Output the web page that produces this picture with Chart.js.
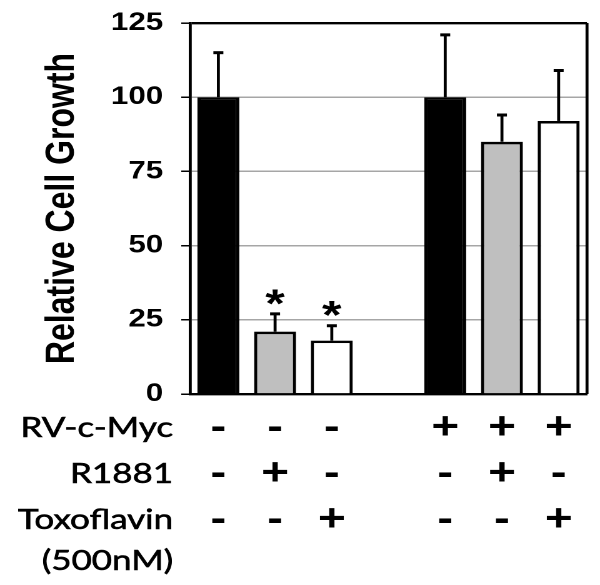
<!DOCTYPE html>
<html lang="en">
<head>
  <meta charset="UTF-8">
  <title>Relative Cell Growth</title>
  <style>
    html, body { margin: 0; padding: 0; background: #fff; }
  </style>
</head>
<body>
  <!-- the original figure is stretched sideways, so draw narrow and let CSS widen it -->
  <canvas id="growthChart" width="480" height="585" style="width:600px;height:585px"></canvas>

  <script src="https://cdn.jsdelivr.net/npm/chart.js"></script>
  <script>
    // Data
    var values = [100, 21, 18, null, 100, 85, 92];
    var errors = [15, 6, 5, null, 21, 9, 17];
    var stars = ['', '*', '*', '', '', '', ''];
    var rvMyc = ['-', '-', '-', '', '+', '+', '+'];
    var r1881 = ['-', '+', '-', '', '-', '+', '-'];
    var toxoflavin = ['-', '-', '+', '', '-', '-', '+'];
    var rowNames = ['RV-c-Myc', 'R1881', 'Toxoflavin', '(500nM)'];
    var yTicks = [0, 25, 50, 75, 100, 125];

    var barColors = ['#000000', '#bfbfbf', '#ffffff', '#ffffff', '#000000', '#bfbfbf', '#ffffff'];
    var rowHeight = 46;
    var labelPad = 11;

    // each category label is the column of +/- signs under the bar
    var labels = values.map(function(v, i) {
      return [rvMyc[i], r1881[i], toxoflavin[i]];
    });

    // error bars, cap and significance stars
    var errorBars = {
      id: 'errorBars',
      afterDatasetsDraw: function(chart) {
        var ctx = chart.ctx;
        var meta = chart.getDatasetMeta(0);
        var y = chart.scales.y;
        ctx.save();
        ctx.strokeStyle = '#000';
        ctx.fillStyle = '#000';
        meta.data.forEach(function(bar, i) {
          if (values[i] == null) return;
          var top = y.getPixelForValue(values[i] + errors[i]);
          ctx.lineWidth = 2.4;
          ctx.beginPath();
          ctx.moveTo(bar.x, bar.y);
          ctx.lineTo(bar.x, top);
          ctx.stroke();
          ctx.lineWidth = 3;
          ctx.beginPath();
          ctx.moveTo(bar.x - 4, top);
          ctx.lineTo(bar.x + 4, top);
          ctx.stroke();
          if (stars[i]) {
            ctx.font = 'bold 40px "Liberation Sans"';
            ctx.textAlign = 'center';
            ctx.textBaseline = 'alphabetic';
            ctx.fillText(stars[i], bar.x, top - 19 + 22);
          }
        });
        ctx.restore();
      },
      afterDraw: function(chart) {
        var ctx = chart.ctx;
        var area = chart.chartArea;
        var xScale = chart.scales.x;
        ctx.save();
        // right side of the frame
        ctx.strokeStyle = '#000';
        ctx.lineWidth = 2.4;
        ctx.beginPath();
        ctx.moveTo(area.right, area.top);
        ctx.lineTo(area.right, area.bottom);
        ctx.stroke();
        // row names of the treatment table
        ctx.font = '28px Lato';
        ctx.textAlign = 'right';
        ctx.textBaseline = 'middle';
        ctx.fillStyle = '#000';
        ctx.lineWidth = 0.6;
        rowNames.forEach(function(name, r) {
          var ty = xScale.top + labelPad + rowHeight * (r + 0.5) - (r == 3 ? 5 : 0);
          ctx.fillText(name, 138.5, ty);
          ctx.strokeText(name, 138.5, ty);
        });
        ctx.restore();
      }
    };

    var ctx = document.getElementById('growthChart').getContext('2d');
    new Chart(ctx, {
      type: 'bar',
      data: {
        labels: labels,
        datasets: [{
          label: 'Relative Cell Growth',
          data: values,
          backgroundColor: barColors,
          borderColor: '#000',
          borderWidth: 2.6,
          categoryPercentage: 1,
          barPercentage: 0.74
        }]
      },
      options: {
        responsive: false,
        devicePixelRatio: 2,
        animation: false,
        layout: { padding: { top: 0, right: 10.4, left: 0, bottom: 0 } },
        plugins: {
          legend: { display: false },
          tooltip: { enabled: false }
        },
        scales: {
          x: {
            grid: { display: false, drawTicks: false, tickLength: 0 },
            border: { color: '#000', width: 2.4 },
            ticks: {
              color: '#000',
              padding: labelPad,
              maxRotation: 0,
              autoSkip: false,
              font: { family: '"Liberation Sans"', size: 38, weight: 'bold', lineHeight: rowHeight + 'px' }
            },
            afterFit: function(scale) { scale.height = 191; }
          },
          y: {
            min: 0,
            max: 125,
            afterBuildTicks: function(scale) {
              scale.ticks = yTicks.map(function(v) { return { value: v }; });
            },
            grid: {
              color: function(c) { return c.tick && c.tick.value === 125 ? '#000' : '#a6a6a6'; },
              lineWidth: function(c) { return c.tick && c.tick.value === 125 ? 2.4 : 1.5; },
              tickColor: '#000',
              tickLength: 7,
              tickWidth: 1.5
            },
            border: { color: '#000', width: 2.4 },
            ticks: {
              color: '#000',
              padding: 14.5,
              font: { family: '"Liberation Sans"', size: 25, weight: 'bold', lineHeight: 0.68 }
            },
            title: {
              display: true,
              text: 'Relative Cell Growth',
              color: '#000',
              padding: { top: 31, bottom: 0 },
              font: { family: '"Liberation Sans"', size: 32, weight: 'bold' }
            },
            afterFit: function(scale) { scale.width = 152; }
          }
        }
      },
      plugins: [errorBars]
    });
  </script>
</body>
</html>
